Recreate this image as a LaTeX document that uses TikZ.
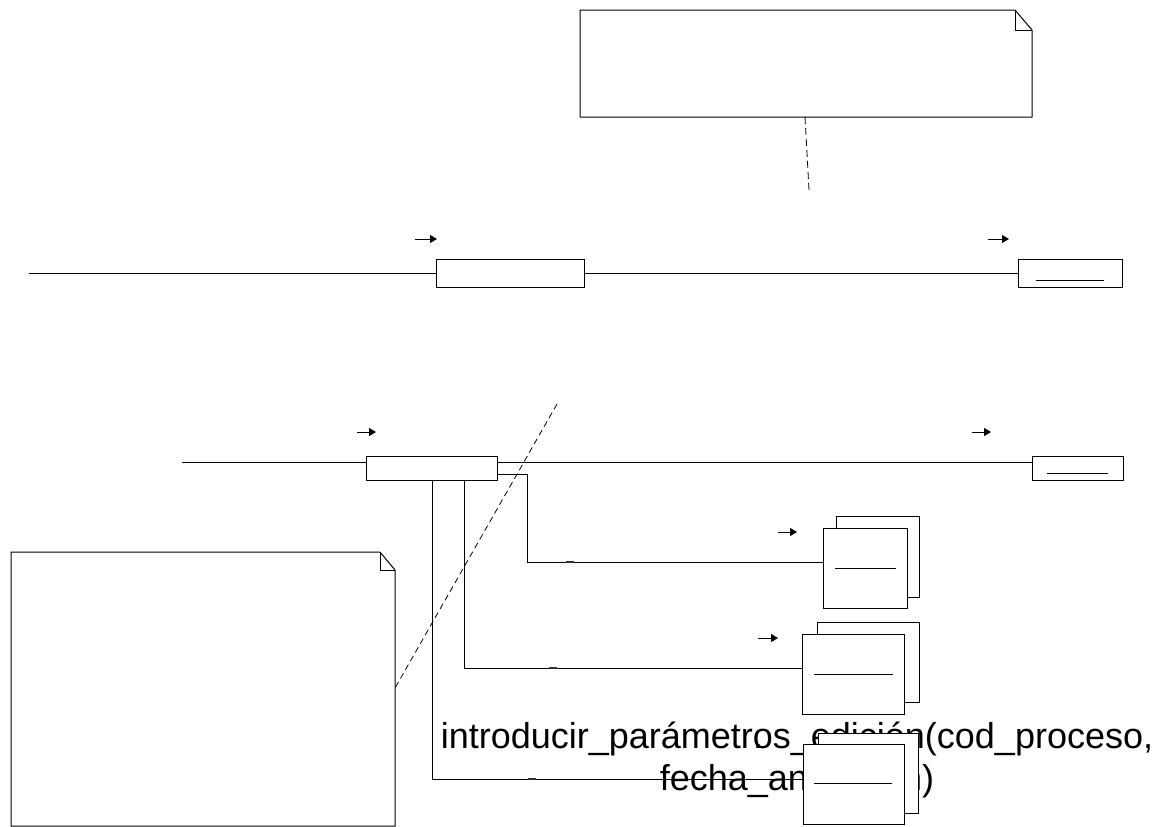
\documentclass[tikz,border=0pt]{standalone}
\usepackage{fontspec}
\setmainfont{Liberation Sans}
\usetikzlibrary{arrows.meta}
\begin{document}
\begin{tikzpicture}[x=1pt,y=-1pt,line width=1pt,
  box/.style={draw,fill=white,inner sep=0pt,outer sep=0pt,anchor=north west},
  msg/.style={-{Triangle[length=7pt,width=8pt]}},
  notefold/.style={draw,fill=white,line join=miter},
  anchorline/.style={dashed,dash pattern=on 7pt off 4pt,line width=0.8pt},
  tick/.style={line width=2pt,black!80},
  lbl/.style={font=\fontsize{36}{42}\selectfont,align=center,inner sep=0pt}]
\useasboundingbox (0,0) rectangle (1159,827);
\fill[white] (0,0) rectangle (1159,827);

% ---------- top note ----------
\path[notefold] (580,10) -- (1015,10) -- (1032,30) -- (1032,117) -- (580,117) -- cycle;
\draw (1015,10) -- (1015,30) -- (1032,30);
\coordinate (n1a) at (805,117);
\coordinate (n1b) at (809,190);
\draw[anchorline] (n1a) -- (n1b);

% ---------- lifeline 1 ----------
\coordinate (l1) at (29,273);
\node[box,minimum width=148pt,minimum height=28pt] (A) at (436,259) {};
\node[box,minimum width=104pt,minimum height=28pt] (B) at (1018,259) {};
\draw (l1) -- (A.west);
\draw (A.east) -- (B.west);
\draw (1036,280) -- (1104,280);
\coordinate (a1s) at (415,239); \coordinate (a1e) at (437,239);
\coordinate (a2s) at (988,239); \coordinate (a2e) at (1009,239);
\draw[msg] (a1s) -- (a1e);
\draw[msg] (a2s) -- (a2e);

% ---------- lifeline 2 ----------
\coordinate (l2) at (182,462);
\node[box,minimum width=131pt,minimum height=24pt] (C) at (366,456) {};
\node[box,minimum width=91pt,minimum height=24pt] (D) at (1032,456) {};
\draw (l2) -- (l2 -| C.west);
\draw (C.north east |- l2) -- (l2 -| D.west);
\draw (1047,473) -- (1108,473);
\coordinate (a3s) at (357,432); \coordinate (a3e) at (376,432);
\coordinate (a4s) at (972,432); \coordinate (a4e) at (991,432);
\draw[msg] (a3s) -- (a3e);
\draw[msg] (a4s) -- (a4e);

% ---------- stacked boxes ----------
\node[box,minimum width=83pt,minimum height=81pt] (Eb) at (836,516) {};
\node[box,minimum width=84pt,minimum height=80pt] (E) at (823,528) {};
\draw (835,568) -- (896,568);
\node[box,minimum width=102pt,minimum height=80pt] (Fb) at (817,622) {};
\node[box,minimum width=102pt,minimum height=80pt] (F) at (802,634) {};
\draw (814,674) -- (893,674);
\coordinate (a5s) at (778,532); \coordinate (a5e) at (797,532);
\coordinate (a6s) at (758,638); \coordinate (a6e) at (778,638);
\draw[msg] (a5s) -- (a5e);
\draw[msg] (a6s) -- (a6e);

% ---------- connectors from C ----------
\coordinate (c1) at (527,474);
\coordinate (c1b) at (527,562);
\draw (C.east |- c1) -- (c1) -- (c1b) -- (c1b -| E.west);
\draw[tick] (566,562) -- (574,562);
\coordinate (c2) at (464,668);
\draw (C.south -| c2) -- (c2) -- (c2 -| F.west);
\draw[tick] (549,668) -- (557,668);
\coordinate (c3) at (432,779);
\draw (C.south -| c3) -- (c3) -- (803,779);
\draw[tick] (528,779) -- (536,779);

% ---------- lower note ----------
\path[notefold] (11,552) -- (380,552) -- (395,570) -- (395,826) -- (11,826) -- cycle;
\draw (380,552) -- (380,570) -- (395,570);
\coordinate (n2a) at (557,404);
\coordinate (n2b) at (395,688);
\draw[anchorline,dash pattern=on 6pt off 4pt] (n2a) -- (n2b);

% ---------- message label ----------
\node[lbl] (msgtext) at (797,760) {introducir\_parámetros\_edición(cod\_proceso,\\fecha\_anulación)};
\node[font=\fontsize{36}{42}\selectfont,inner sep=0pt,anchor=base] (dot) at (758,748) {.};

% ---------- third stacked box (over the label) ----------
\node[box,minimum width=100pt,minimum height=80pt] (Gb) at (818,733) {};
\node[box,minimum width=101pt,minimum height=80pt] (G) at (803,744) {};
\draw (814,783) -- (892,783);
\end{tikzpicture}
\end{document}
